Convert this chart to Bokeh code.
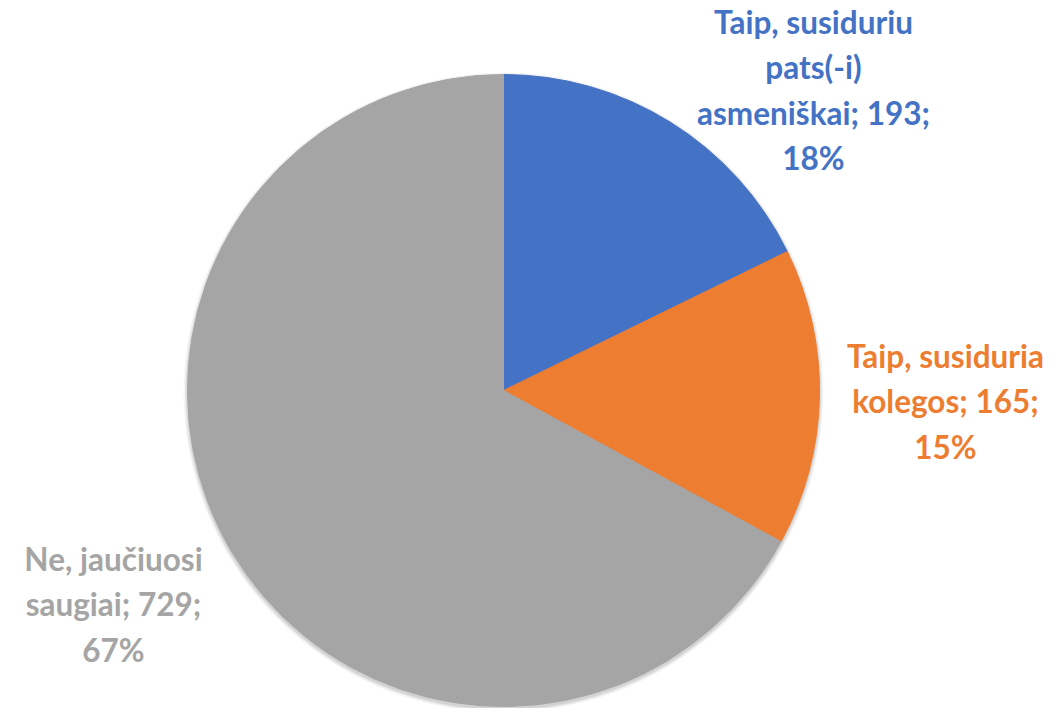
from math import pi
from bokeh.plotting import figure
from bokeh.models import Range1d
from bokeh.core.properties import value
from bokeh.embed import file_html
from bokeh.resources import INLINE

# ---- data ----
categories = ["Taip, susiduriu\npats(-i)\nasmeniškai", "Taip, susiduria\nkolegos", "Ne, jaučiuosi\nsaugiai"]
counts = [193, 165, 729]
colors = ["#4472C4", "#ED7D31", "#A5A5A5"]

total = sum(counts)
W, H = 1056, 708
# data coords: x = page px, y = 710 - page px
p = figure(width=W, height=H, output_backend="svg", toolbar_location=None,
           x_range=Range1d(0, W), y_range=Range1d(710 - H, 710),
           min_border=0, outline_line_color=None)
p.axis.visible = False
p.grid.visible = False

cx, cy, r = 503, 710 - 390, 316

# soft shadow
for i, a in enumerate([0.03, 0.04, 0.05, 0.06]):
    p.circle(x=cx, y=cy - 2, radius=r + 4 - i, fill_color="black", fill_alpha=a, line_color=None)

start = pi / 2
starts, ends = [], []
for c in counts:
    ang = 2 * pi * c / total
    starts.append(start)
    ends.append(start - ang)
    start -= ang

p.wedge(x=[cx] * 3, y=[cy] * 3, radius=r, start_angle=starts, end_angle=ends,
        direction="clock", fill_color=colors, line_color=colors, line_width=1)

label_pos = [(813, 89.5), (945, 401), (113, 604)]
for cat, cnt, col, (lx, ly) in zip(categories, counts, colors, label_pos):
    pct = round(100 * cnt / total)
    txt = f"{cat}; {cnt};\n{pct}%"
    p.text(x=[lx], y=[710 - ly], text=[txt], text_align="center", text_baseline="middle",
           text_font=value("Lato"), text_font_style="bold", text_font_size="31.5px",
           text_line_height=1.19, text_color=col)

open("out.html", "w").write(file_html(p, INLINE))
